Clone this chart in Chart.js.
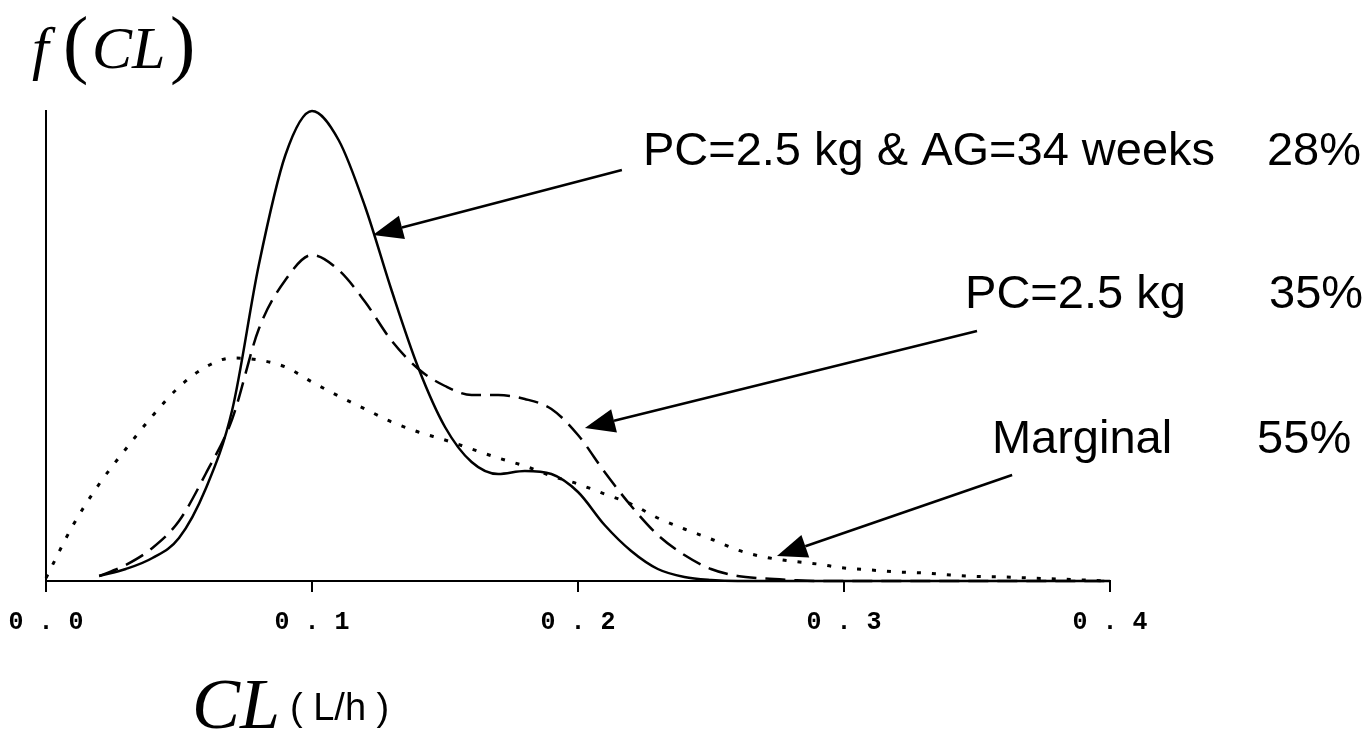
<!DOCTYPE html>
<html>
<head>
<meta charset="utf-8">
<title>f(CL)</title>
<script src="https://cdn.jsdelivr.net/npm/chart.js@4.4.1/dist/chart.umd.min.js"></script>
<style>
  html, body { margin: 0; padding: 0; background: #fff; }
  #wrap { width: 1366px; height: 736px; position: relative; }
</style>
</head>
<body>
<div id="wrap"><canvas id="chart"></canvas></div>
<script>
/* ---------- data ---------- */
// clearance grid, L/h
const clGrid = [0.00, 0.01, 0.02, 0.03, 0.04, 0.05, 0.06, 0.07, 0.08, 0.09,
                0.10, 0.11, 0.12, 0.13, 0.14, 0.15, 0.16, 0.17, 0.18, 0.19,
                0.20, 0.21, 0.22, 0.23, 0.24, 0.25, 0.26, 0.27, 0.28, 0.29,
                0.30, 0.31, 0.32, 0.33, 0.34, 0.35, 0.36, 0.37, 0.38, 0.39, 0.40];

// PC=2.5 kg & AG=34 weeks (solid)
const densPcAg = [null, null, 0.5, 1.2, 2.3, 4.3, 9.2, 17.1, 31.6, 42.6,
                  47.0, 44.1, 37.4, 29.0, 21.3, 15.4, 11.9, 10.7, 11.0, 10.7,
                  8.9, 5.6, 3.0, 1.2, 0.4, 0.1, 0, 0, 0, 0,
                  0, 0, 0, 0, 0, 0, 0, 0, 0, 0, 0];

// PC=2.5 kg (dashed)
const densPc = [null, null, 0.5, 1.6, 3.3, 6.0, 10.7, 16.2, 25.2, 30.1,
                32.6, 31.1, 27.9, 24.0, 21.2, 19.5, 18.6, 18.6, 18.2, 17.2,
                14.6, 10.9, 7.5, 4.6, 2.6, 1.2, 0.5, 0.25, 0.1, 0,
                0, 0, 0, 0, 0, 0, 0, 0, 0, 0, 0];

// Marginal (dotted)
const densMarginal = [0.3, 5.5, 9.7, 13.2, 16.5, 19.4, 21.4, 22.3, 22.1, 21.4,
                      19.9, 18.5, 17.2, 15.9, 14.9, 14.1, 13.2, 12.3, 11.5, 10.5,
                      9.7, 8.7, 7.7, 6.3, 5.2, 4.2, 3.1, 2.4, 2.0, 1.7,
                      1.3, 1.1, 0.9, 0.8, 0.6, 0.45, 0.4, 0.3, 0.2, 0.1, 0];

const xTicks = [0.0, 0.1, 0.2, 0.3, 0.4];

const labelNames = ['PC=2.5 kg & AG=34 weeks', 'PC=2.5 kg', 'Marginal'];
const labelPcts = ['28%', '35%', '55%'];

/* ---------- annotation placement (data units) ---------- */
const labelAt = [[0.2244, 41.6], [0.3455, 27.3], [0.3556, 12.8]];
const pctAt = [0.459, 0.4598, 0.4553];
const arrowFrom = [[0.2165, 41.1], [0.350, 25.0], [0.3632, 10.6]];
const arrowTo = [[0.1229, 34.6], [0.2026, 15.3], [0.2748, 2.5]];

const INK = '#000';

function toPoints(ys) {
  return clGrid.map((x, i) => ({ x, y: ys[i] }));
}

function drawArrow(ctx, x0, y0, x1, y1) {
  const a = Math.atan2(y1 - y0, x1 - x0);
  const len = 30, half = 12;
  const bx = x1 - len * Math.cos(a), by = y1 - len * Math.sin(a);
  ctx.lineWidth = 2.5;
  ctx.beginPath();
  ctx.moveTo(x0, y0);
  ctx.lineTo(bx, by);
  ctx.stroke();
  ctx.beginPath();
  ctx.moveTo(x1, y1);
  ctx.lineTo(bx + half * Math.sin(a), by - half * Math.cos(a));
  ctx.lineTo(bx - half * Math.sin(a), by + half * Math.cos(a));
  ctx.closePath();
  ctx.fill();
}

// titles, labels and arrows
const overlay = {
  id: 'overlay',
  afterDraw(chart) {
    const { ctx, scales: { x, y } } = chart;
    ctx.save();
    ctx.fillStyle = INK;
    ctx.strokeStyle = INK;
    ctx.textBaseline = 'alphabetic';
    ctx.textAlign = 'left';

    // y title: f(CL)
    ctx.font = "italic 60px 'Liberation Serif'";
    ctx.fillText('f', 32, 68);
    ctx.font = "76px 'Liberation Serif'";
    ctx.fillText('(', 63, 69);
    ctx.font = "italic 60px 'Liberation Serif'";
    ctx.fillText('CL', 92, 68);
    ctx.font = "76px 'Liberation Serif'";
    ctx.fillText(')', 170, 69);

    // x title: CL ( L/h )
    ctx.font = "italic 72px 'Liberation Serif'";
    ctx.fillText('CL', 192, 728);
    ctx.font = "38px 'Liberation Sans'";
    ctx.fillText('( L/h )', 290, 720);

    // curve labels
    ctx.font = "47px 'Liberation Sans'";
    labelNames.forEach((name, i) => {
      const py = y.getPixelForValue(labelAt[i][1]);
      ctx.fillText(name, x.getPixelForValue(labelAt[i][0]), py);
      ctx.fillText(labelPcts[i], x.getPixelForValue(pctAt[i]), py);
    });

    // arrows
    arrowFrom.forEach((f, i) => {
      drawArrow(ctx,
        x.getPixelForValue(f[0]), y.getPixelForValue(f[1]),
        x.getPixelForValue(arrowTo[i][0]), y.getPixelForValue(arrowTo[i][1]));
    });
    ctx.restore();
  }
};

const lineBase = {
  fill: false,
  pointRadius: 0,
  borderColor: INK,
  cubicInterpolationMode: 'monotone',
  clip: false
};

new Chart(document.getElementById('chart'), {
  type: 'line',
  data: {
    datasets: [
      { ...lineBase, label: labelNames[0], data: toPoints(densPcAg), borderWidth: 2.5 },
      { ...lineBase, label: labelNames[1], data: toPoints(densPc), borderWidth: 2.5, borderDash: [20, 9] },
      { ...lineBase, label: labelNames[2], data: toPoints(densMarginal), borderWidth: 3, borderDash: [4, 11] }
    ]
  },
  options: {
    responsive: true,
    maintainAspectRatio: false,
    animation: false,
    events: [],
    layout: { padding: { left: 46, right: 256, top: 111, bottom: 85 } },
    plugins: { legend: { display: false }, tooltip: { enabled: false } },
    scales: {
      x: {
        type: 'linear',
        min: 0,
        max: 0.4,
        afterFit: s => { s.height = 70; s.paddingLeft = 0; s.paddingRight = 0; },
        afterBuildTicks: s => { s.ticks = xTicks.map(v => ({ value: v })); },
        border: { display: true, color: INK, width: 2 },
        grid: { drawOnChartArea: false, drawTicks: true, tickLength: 11, color: INK, lineWidth: 2 },
        ticks: {
          color: INK,
          font: { family: "'Liberation Mono'", size: 25, weight: 'bold' },
          padding: 16,
          maxRotation: 0,
          autoSkip: false,
          callback: v => v.toFixed(1).split('').join(' ')
        }
      },
      y: {
        min: 0,
        max: 47,
        afterFit: s => { s.width = 0; },
        border: { display: true, color: INK, width: 2 },
        grid: { display: false },
        ticks: { display: false }
      }
    }
  },
  plugins: [overlay]
});
</script>
</body>
</html>
